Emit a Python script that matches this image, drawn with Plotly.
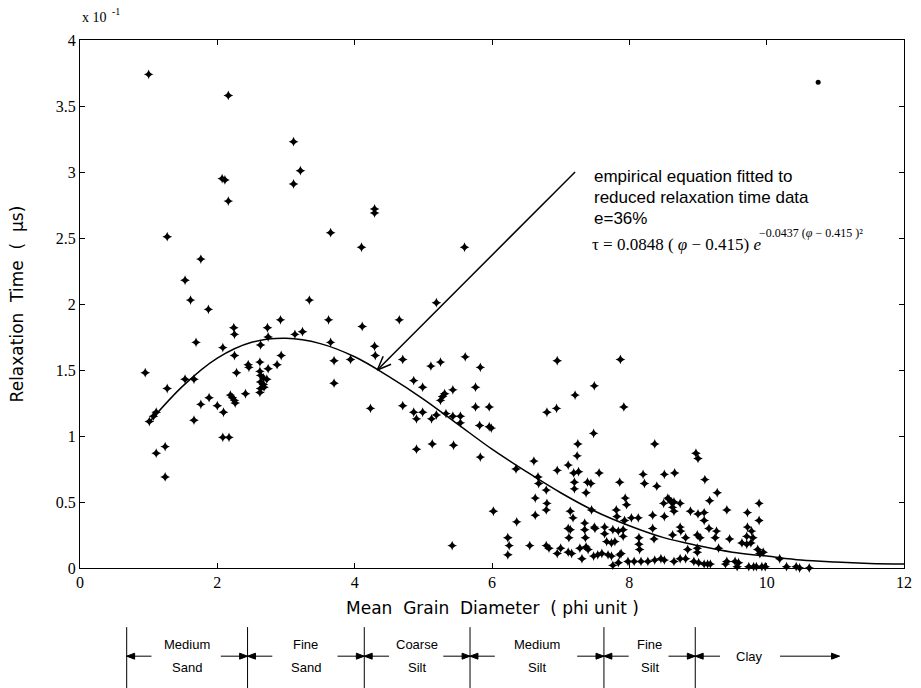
import math
import plotly.graph_objects as go

# ---- measured relaxation times (units of 1e-1 microseconds) vs mean grain size (phi) ----
phi = [
    1.00, 2.16, 3.11, 3.21, 3.11, 2.07, 2.11, 2.16, 4.29, 4.29, 1.27, 3.65, 4.10, 1.76, 1.53,
    1.61, 3.34, 5.60, 5.19, 1.87, 1.69, 2.24, 2.25, 2.73, 2.92, 2.74, 3.13, 3.24, 3.62, 4.11,
    3.65, 2.08, 2.25, 2.63, 4.29, 4.30, 3.70, 3.94, 2.93, 0.95, 1.53, 1.66, 2.28, 2.45, 2.46,
    2.62, 2.62, 2.74, 2.87, 2.63, 2.67, 2.72, 2.63, 2.67, 2.63, 2.68, 2.62, 3.70, 1.27, 2.19,
    2.22, 2.25, 2.26, 2.41, 1.88, 1.76, 2.00, 2.09, 4.23, 1.11, 1.07, 1.01, 1.66, 2.08, 2.17,
    1.24, 1.11, 1.24,
    4.65, 4.70, 6.95, 7.87, 5.11, 5.25, 5.61, 5.83, 4.86, 4.99, 5.43, 5.76, 7.49, 7.21, 5.31,
    5.28, 5.25, 4.70, 5.76, 5.96, 7.92, 6.94, 6.80, 4.86, 4.99, 4.90, 5.12, 5.19, 5.33, 5.43,
    5.54, 5.54, 5.82, 5.96, 5.99, 5.13, 4.90, 5.44, 5.83, 7.48, 7.25, 7.24, 8.37, 6.61, 6.95,
    7.11, 7.19, 7.26, 7.56, 6.35, 6.67, 6.68, 7.20, 7.20, 7.39, 7.44, 7.37, 7.86, 8.20, 8.22,
    8.51, 8.66, 8.40, 6.79, 6.63, 6.80, 6.79, 6.02, 6.63, 7.14, 7.18, 7.45, 7.94, 7.96, 7.81,
    7.82, 8.03, 8.13, 8.34, 8.51, 8.56, 8.61, 8.50, 8.58, 8.65, 8.74, 8.63, 8.65, 6.36, 7.11,
    7.14, 7.12, 7.35, 7.35, 7.49, 7.50, 7.64, 7.64, 7.76, 7.91, 7.91, 7.93, 7.84, 8.34, 8.36,
    8.63, 8.74, 8.75, 7.36, 7.67, 7.74, 7.79, 8.14, 8.14, 8.15, 6.23, 6.25, 6.23, 5.42, 6.55,
    6.79, 6.83, 6.95, 7.00, 7.11, 7.16, 7.31, 7.28, 7.37, 7.40, 7.48, 7.54, 7.60, 7.69, 7.74,
    7.86, 7.88, 7.76, 7.84, 7.98, 8.07, 8.17, 8.27, 8.37, 8.46, 8.51, 8.74, 8.65,
    8.97, 9.00, 9.10, 9.28, 9.17, 9.89, 8.89, 9.00, 9.09, 9.09, 9.42, 9.72, 9.89, 9.16, 9.27,
    9.25, 9.72, 9.78, 9.71, 9.80, 9.64, 9.71, 9.77, 9.46, 8.99, 9.03, 8.82, 8.85, 8.99, 8.99,
    9.30, 9.87, 9.90, 9.95, 10.19, 8.82, 8.94, 9.01, 9.09, 9.14, 9.18, 9.40, 9.42, 9.54, 9.59,
    9.57, 9.74, 9.81, 9.85, 9.93, 9.98, 10.29, 10.43, 10.48, 10.62,
]
tau = [
    3.74, 3.58, 3.23, 3.01, 2.91, 2.95, 2.94, 2.78, 2.72, 2.69, 2.51, 2.54, 2.43, 2.34, 2.18,
    2.03, 2.03, 2.43, 2.01, 1.96, 1.71, 1.82, 1.77, 1.82, 1.88, 1.75, 1.77, 1.79, 1.88, 1.83,
    1.71, 1.67, 1.61, 1.69, 1.68, 1.61, 1.57, 1.58, 1.61, 1.48, 1.43, 1.43, 1.48, 1.54, 1.52,
    1.56, 1.49, 1.51, 1.54, 1.46, 1.44, 1.43, 1.41, 1.39, 1.36, 1.37, 1.33, 1.40, 1.36, 1.31,
    1.29, 1.27, 1.25, 1.32, 1.29, 1.24, 1.23, 1.18, 1.21, 1.18, 1.15, 1.11, 1.12, 0.99, 0.99,
    0.92, 0.87, 0.69,
    1.88, 1.58, 1.57, 1.58, 1.53, 1.56, 1.60, 1.52, 1.42, 1.37, 1.35, 1.37, 1.38, 1.31, 1.32,
    1.30, 1.27, 1.23, 1.22, 1.22, 1.22, 1.21, 1.18, 1.18, 1.18, 1.13, 1.13, 1.16, 1.17, 1.15,
    1.15, 1.10, 1.08, 1.07, 1.06, 0.94, 0.90, 0.93, 0.84, 1.02, 0.94, 0.85, 0.94, 0.81, 0.74,
    0.78, 0.72, 0.73, 0.72, 0.75, 0.69, 0.64, 0.65, 0.60, 0.65, 0.64, 0.57, 0.65, 0.71, 0.64,
    0.71, 0.72, 0.62, 0.59, 0.53, 0.49, 0.44, 0.43, 0.40, 0.43, 0.38, 0.44, 0.53, 0.48, 0.44,
    0.39, 0.38, 0.38, 0.40, 0.39, 0.53, 0.50, 0.49, 0.52, 0.50, 0.49, 0.46, 0.43, 0.35, 0.30,
    0.29, 0.23, 0.34, 0.29, 0.31, 0.30, 0.31, 0.26, 0.29, 0.29, 0.24, 0.36, 0.28, 0.30, 0.22,
    0.25, 0.31, 0.28, 0.23, 0.20, 0.19, 0.20, 0.23, 0.18, 0.14, 0.23, 0.17, 0.10, 0.17, 0.17,
    0.17, 0.15, 0.11, 0.15, 0.12, 0.11, 0.07, 0.15, 0.16, 0.14, 0.09, 0.10, 0.11, 0.10, 0.09,
    0.10, 0.11, 0.02, 0.04, 0.05, 0.05, 0.05, 0.05, 0.06, 0.07, 0.06, 0.07, 0.05,
    0.87, 0.83, 0.67, 0.57, 0.51, 0.49, 0.43, 0.41, 0.42, 0.36, 0.44, 0.42, 0.36, 0.30, 0.28,
    0.23, 0.31, 0.28, 0.24, 0.23, 0.19, 0.18, 0.19, 0.22, 0.25, 0.23, 0.23, 0.14, 0.15, 0.12,
    0.15, 0.14, 0.11, 0.12, 0.07, 0.07, 0.05, 0.04, 0.03, 0.03, 0.03, 0.03, 0.05, 0.05, 0.04,
    0.01, 0.01, 0.01, 0.01, 0.01, 0.01, 0.01, 0.01, 0.00, 0.00,
]

# isolated sample plotted as a dot
dot_phi = [10.75]
dot_tau = [3.68]

# fitted empirical curve
curve_phi = [1.0, 1.5, 2.0, 2.5, 3.0, 3.5, 4.0, 4.5, 5.0, 5.5, 6.0, 6.5,
             7.0, 7.5, 8.0, 8.5, 9.0, 9.5, 10.0, 10.5, 11.0, 11.5, 12.0]
curve_tau = [1.10, 1.38, 1.59, 1.71, 1.74, 1.70, 1.60, 1.45, 1.28, 1.09, 0.90, 0.73,
             0.57, 0.43, 0.32, 0.23, 0.17, 0.12, 0.09, 0.06, 0.045, 0.035, 0.03]

# pointer from the caption to the curve (tail, head) in data units
pointer_tail = (7.21, 3.00)
pointer_head = (4.33, 1.50)

# sediment size classes (boundaries in phi along the lower scale)
class_bounds = [0.68, 2.44, 4.14, 5.68, 7.63, 8.96]
class_names = [("Medium", "Sand"), ("Fine", "Sand"), ("Coarse", "Silt"),
               ("Medium", "Silt"), ("Fine", "Silt")]
clay_label_phi = 9.75
clay_arrow_end = 11.06

x_ticks = [0, 2, 4, 6, 8, 10, 12]
y_ticks = [0, 0.5, 1, 1.5, 2, 2.5, 3, 3.5, 4]

SANS = "Liberation Sans, Arial, sans-serif"
WIDE = "DejaVu Sans, Verdana, sans-serif"
SERIF = "Liberation Serif, Times New Roman, serif"

W, H = 921, 688
M_L, M_R, M_T, M_B = 80, 9, 40, 120
PLOT_W = W - M_L - M_R
PLOT_H = H - M_T - M_B
X_RANGE = (0, 12)
Y_RANGE = (0, 4)
PX_PER_X = PLOT_W / (X_RANGE[1] - X_RANGE[0])
PX_PER_Y = PLOT_H / (Y_RANGE[1] - Y_RANGE[0])

fig = go.Figure()
fig.add_trace(go.Scatter(
    x=curve_phi, y=curve_tau, mode="lines", line=dict(color="black", width=1.5, shape="spline"),
    hoverinfo="skip", showlegend=False))
fig.add_trace(go.Scatter(
    x=phi, y=tau, mode="markers", cliponaxis=False,
    marker=dict(symbol="star-diamond", size=7, color="black", line=dict(width=0)),
    showlegend=False))
fig.add_trace(go.Scatter(
    x=dot_phi, y=dot_tau, mode="markers",
    marker=dict(symbol="circle", size=5, color="black"), showlegend=False))

shapes = []
ann = []

# pointer: shaft plus an open "V" head
hx, hy = pointer_head
tx, ty = pointer_tail
shapes.append(dict(type="line", xref="x", yref="y", x0=tx, y0=ty, x1=hx, y1=hy,
                   line=dict(color="black", width=1.5)))
ux, uy = (tx - hx) * PX_PER_X, (ty - hy) * PX_PER_Y
norm = math.hypot(ux, uy)
ux, uy = ux / norm, uy / norm
for sgn in (1, -1):
    a = math.radians(22) * sgn
    bx = ux * math.cos(a) - uy * math.sin(a)
    by = ux * math.sin(a) + uy * math.cos(a)
    shapes.append(dict(type="line", xref="x", yref="y", x0=hx, y0=hy,
                       x1=hx + 15 * bx / PX_PER_X, y1=hy + 15 * by / PX_PER_Y,
                       line=dict(color="black", width=1.5)))

text_lines = ["empirical equation fitted to", "reduced relaxation time data", "e=36%"]
for i, t in enumerate(text_lines):
    ann.append(dict(x=0.621, y=0.742 - i * 0.040, xref="paper", yref="paper",
                    xanchor="left", yanchor="middle", showarrow=False, text=t,
                    font=dict(family=SANS, size=17, color="black")))
# fitted equation: base line plus raised exponent
ann.append(dict(x=0.619, y=0.612, xref="paper", yref="paper", xanchor="left", yanchor="middle",
                showarrow=False, text="τ = 0.0848 ( <i>φ</i> − 0.415) <i>e</i>",
                font=dict(family=SERIF, size=17, color="black")))
ann.append(dict(x=0.822, y=0.634, xref="paper", yref="paper", xanchor="left", yanchor="middle",
                showarrow=False, text="−0.0437 (<i>φ</i> − 0.415 )²",
                font=dict(family=SERIF, size=12, color="black")))
# scale factor
ann.append(dict(x=0.0, y=1.042, xref="paper", yref="paper", xanchor="left", yanchor="middle",
                showarrow=False, text="x 10", font=dict(family=SERIF, size=14, color="black")))
ann.append(dict(x=0.037, y=1.054, xref="paper", yref="paper", xanchor="left", yanchor="middle",
                showarrow=False, text="-1", font=dict(family=SERIF, size=10, color="black")))
# axis titles
ann.append(dict(x=-0.076, y=0.5, xref="paper", yref="paper", xanchor="center", yanchor="middle",
                textangle=-90, showarrow=False,
                text="Relaxation&nbsp; Time&nbsp; (&nbsp; µs)",
                font=dict(family=WIDE, size=17, color="black")))
ann.append(dict(x=0.5, y=-0.075, xref="paper", yref="paper", xanchor="center", yanchor="middle",
                showarrow=False, text="Mean&nbsp; Grain&nbsp; Diameter&nbsp; ( phi unit )",
                font=dict(family=WIDE, size=17, color="black")))

# size-class scale beneath the axis
y_bar0, y_bar1 = -0.112, -0.23
y_arrow = -0.167
head_len = 8 / PX_PER_X
head_half = 3 / PLOT_H


def ruler_arrow(x_from, x_to):
    shapes.append(dict(type="line", xref="x", yref="paper", x0=x_from, x1=x_to,
                       y0=y_arrow, y1=y_arrow, line=dict(color="black", width=1)))
    back = x_to - head_len if x_to > x_from else x_to + head_len
    shapes.append(dict(type="path", xref="x", yref="paper",
                       path=f"M {x_to},{y_arrow} L {back},{y_arrow + head_half} "
                            f"L {back},{y_arrow - head_half} Z",
                       fillcolor="black", line=dict(color="black", width=1)))


for b in class_bounds:
    shapes.append(dict(type="line", xref="x", yref="paper", x0=b, x1=b, y0=y_bar0, y1=y_bar1,
                       line=dict(color="black", width=1)))
for i, (top, bot) in enumerate(class_names):
    left, right = class_bounds[i], class_bounds[i + 1]
    mid = (left + right) / 2
    ann.append(dict(x=mid, y=-0.145, xref="x", yref="paper", yanchor="middle", showarrow=False,
                    text=top, font=dict(family=SANS, size=13, color="black")))
    ann.append(dict(x=mid, y=-0.188, xref="x", yref="paper", yanchor="middle", showarrow=False,
                    text=bot, font=dict(family=SANS, size=13, color="black")))
    ruler_arrow(left + 25 / PX_PER_X, left)
    ruler_arrow(right - 27 / PX_PER_X, right)
ruler_arrow(class_bounds[-1] + 25 / PX_PER_X, class_bounds[-1])
ann.append(dict(x=clay_label_phi, y=y_arrow, xref="x", yref="paper", yanchor="middle",
                showarrow=False, text="Clay", font=dict(family=SANS, size=13, color="black")))
ruler_arrow(clay_arrow_end - 60 / PX_PER_X, clay_arrow_end)

axis_common = dict(showgrid=False, zeroline=False, showline=True, linecolor="black", linewidth=1.2,
                   mirror="ticks", ticks="inside", ticklen=5, tickcolor="black",
                   tickfont=dict(family=SERIF, size=16, color="black"))
fig.update_layout(
    width=W, height=H,
    margin=dict(l=M_L, r=M_R, t=M_T, b=M_B),
    paper_bgcolor="white", plot_bgcolor="white",
    xaxis=dict(range=list(X_RANGE), tickvals=x_ticks, **axis_common),
    yaxis=dict(range=list(Y_RANGE), tickvals=y_ticks, **axis_common),
    annotations=ann, shapes=shapes,
)
fig.write_html("out.html")
